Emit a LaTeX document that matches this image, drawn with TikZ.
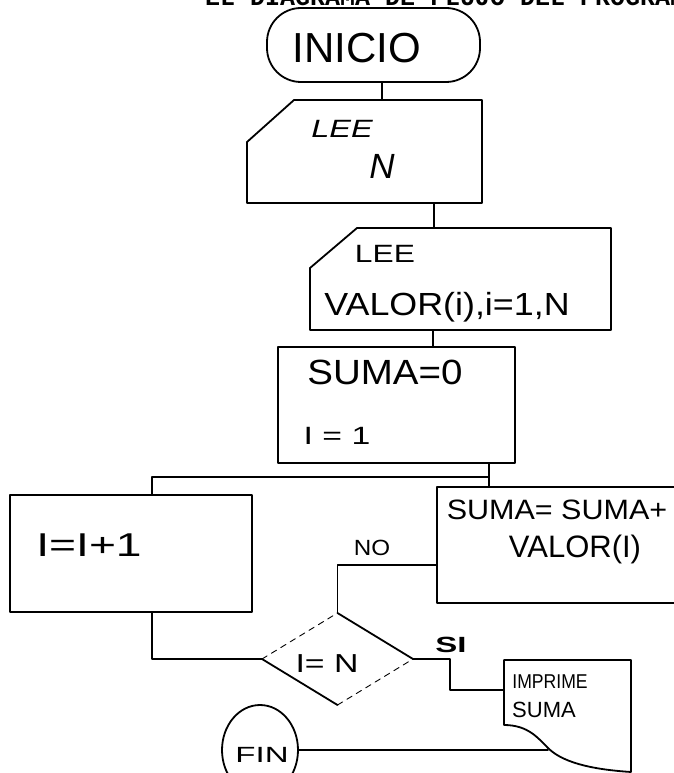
\documentclass[tikz,border=0pt]{standalone}
\usepackage{graphicx}
\usepackage{fontspec}
\setmainfont{Liberation Sans}
\newfontfamily\titlefont{Liberation Mono}
\usetikzlibrary{shapes.geometric,calc}
\newcommand\fsz[1]{\fontsize{#1}{#1}\selectfont}
\newcommand\hstr[2]{\scalebox{#1}[1]{#2}}
\begin{document}
\begin{tikzpicture}[x=1pt,y=-1pt,
  line width=1.8pt, line join=round, line cap=round,
  every node/.style={inner sep=0pt, outer sep=0pt},
  shapebox/.style={rectangle, draw=none},
  plainbox/.style={rectangle, draw},
  txt/.style={inner sep=0pt},
  faint/.style={line width=0.9pt, dash pattern=on 6pt off 5pt}]
\clip (0,0) rectangle (674,773);

% partially visible title
\node[anchor=base west, font=\titlefont\bfseries\fsz{25}] (title) at (205,6) {EL DIAGRAMA DE FLUJO DEL PROGRAMA};

% INICIO terminal
\node[draw, rectangle, rounded corners=34pt, minimum width=213pt, minimum height=74pt] (inicio) at (373.5,45) {};
\node[txt, font=\fsz{42}] (tinicio) at (357,48) {INICIO};

% LEE N (card)
\node[shapebox, minimum width=235pt, minimum height=103pt] (lee1) at (364.5,151.5) {};
\draw ([xshift=47pt]lee1.north west) -- (lee1.north east) -- (lee1.south east) -- (lee1.south west) -- ([yshift=-42pt]lee1.north west) -- cycle;
\node[txt, font=\itshape\fsz{25}] (tlee1) at (342,129) {\hstr{1.3}{LEE}};
\node[txt, font=\itshape\fsz{35}] (tn1) at (382,166) {N};

% LEE VALOR (card)
\node[shapebox, minimum width=301pt, minimum height=102pt] (lee2) at (460.5,279) {};
\draw ([xshift=47pt]lee2.north west) -- (lee2.north east) -- (lee2.south east) -- (lee2.south west) -- ([yshift=-40pt]lee2.north west) -- cycle;
\node[txt, font=\fsz{25}] (tlee2) at (385,254) {\hstr{1.27}{LEE}};
\node[txt, font=\fsz{32}] (tval) at (447,307) {\hstr{1.12}{VALOR(i),i=1,N}};

% SUMA=0, I=1
\node[plainbox, minimum width=237pt, minimum height=116pt] (suma0) at (396.5,405) {};
\node[txt, font=\fsz{35}] (tsuma0) at (385,372) {\hstr{1.1}{SUMA=0}};
\node[txt, font=\fsz{25}] (ti1) at (337,436) {\hstr{1.35}{I = 1}};

% I=I+1
\node[plainbox, minimum width=242pt, minimum height=117pt] (inc) at (131,553.5) {};
\node[txt, font=\fsz{33}] (tinc) at (89,545) {\hstr{1.4}{I=I+1}};

% SUMA=SUMA+VALOR(I)
\node[plainbox, minimum width=253pt, minimum height=116pt] (acc) at (563.5,545) {};
\node[txt, font=\fsz{28}] (tacc1) at (557,510) {\hstr{1.09}{SUMA= SUMA+}};
\node[txt, font=\fsz{31}] (tacc2) at (575,549) {VALOR(I)};

% decision I=N
\node[diamond, draw=none, minimum width=151pt, minimum height=92pt] (dec) at (337.5,659) {};
\draw (dec.north) -- (dec.east);
\draw (dec.west) -- (dec.south);
\draw[faint] (dec.west) -- (dec.north);
\draw[faint] (dec.south) -- (dec.east);
\node[txt, font=\fsz{26}] (tdec) at (327,664) {\hstr{1.3}{I= N}};

% IMPRIME SUMA (document)
\node[shapebox, minimum width=127pt, minimum height=112pt] (print) at (567.5,716) {};
\coordinate (w) at (548,748);
\draw (print.south east) -- (print.north east) -- (print.north west) -- ([yshift=-65pt]print.north west)
  .. controls +(24,0) and +(-10,-10) .. (w)
  .. controls +(17,17) and +(-30,-2) .. (print.south east);
\node[txt, font=\fsz{20}] (tpr1) at (550,682) {\hstr{0.88}{IMPRIME}};
\node[txt, font=\fsz{22}] (tpr2) at (544,710) {SUMA};

% FIN
\node[ellipse, draw, minimum width=76pt, minimum height=90pt] (fin) at (260,750) {};
\node[txt, font=\fsz{22}] (tfin) at (262,755) {\hstr{1.5}{FIN}};

% labels
\node[txt, font=\fsz{22}] (lno) at (372,548) {\hstr{1.1}{NO}};
\node[txt, font=\bfseries\fsz{22}] (lsi) at (451,645) {\hstr{1.5}{SI}};

% connectors
\coordinate (c1) at ([xshift=8.5pt]inicio.south);
\draw (c1) -- (c1 |- lee1.north);
\coordinate (c2) at ([xshift=69.5pt]lee1.south);
\draw (c2) -- (c2 |- lee2.north);
\coordinate (c3) at ([xshift=-27.5pt]lee2.south);
\draw (c3) -- (c3 |- suma0.north);
\coordinate (c4) at ([xshift=92.5pt]suma0.south);
\draw (c4) -- (c4 |- acc.north);
\coordinate (j) at ($(c4)!0.58!(c4 |- acc.north)$);
\coordinate (c5) at ([xshift=21pt]inc.north);
\draw (c5) |- (j);
\coordinate (c6) at ([yshift=-20pt]acc.west);
\draw (c6) -| (dec.north);
\coordinate (c7) at ([xshift=21pt]inc.south);
\draw (dec.west) -| (c7);
\coordinate (c8) at ([yshift=26pt]print.west);
\draw (dec.east) -- ++(37,0) |- (c8);
\draw (fin.east) -- (fin.east -| w);
\end{tikzpicture}
\end{document}
